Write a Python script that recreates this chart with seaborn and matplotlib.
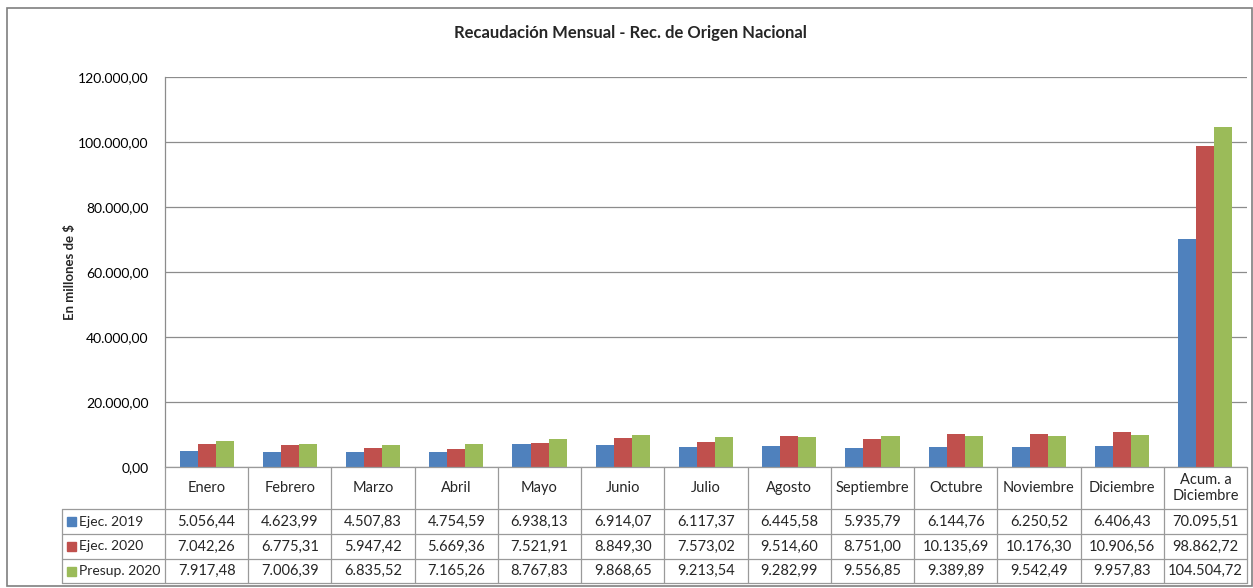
import pandas as pd
import matplotlib
matplotlib.use('Agg')
import matplotlib.pyplot as plt
import matplotlib.transforms as mtransforms
from matplotlib.lines import Line2D
from matplotlib.patches import Rectangle
from matplotlib.ticker import FuncFormatter
import seaborn as sns

categories = ['Enero', 'Febrero', 'Marzo', 'Abril', 'Mayo', 'Junio', 'Julio',
              'Agosto', 'Septiembre', 'Octubre', 'Noviembre', 'Diciembre',
              'Acum. a\nDiciembre']
series_names = ['Ejec. 2019', 'Ejec. 2020', 'Presup. 2020']
ejec_2019 = [5056.44, 4623.99, 4507.83, 4754.59, 6938.13, 6914.07, 6117.37,
             6445.58, 5935.79, 6144.76, 6250.52, 6406.43, 70095.51]
ejec_2020 = [7042.26, 6775.31, 5947.42, 5669.36, 7521.91, 8849.30, 7573.02,
             9514.60, 8751.00, 10135.69, 10176.30, 10906.56, 98862.72]
presup_2020 = [7917.48, 7006.39, 6835.52, 7165.26, 8767.83, 9868.65, 9213.54,
               9282.99, 9556.85, 9389.89, 9542.49, 9957.83, 104504.72]
yticks = [0, 20000, 40000, 60000, 80000, 100000, 120000]

colors = ['#4F81BD', '#C0504D', '#9BBB59']

# Long table for seaborn
values = {'Ejec. 2019': ejec_2019, 'Ejec. 2020': ejec_2020, 'Presup. 2020': presup_2020}
df = pd.DataFrame([
    {'Mes': c, 'Serie': s, 'Valor': v}
    for s in series_names for c, v in zip(categories, values[s])
])


def es_num(v, pos=None):
    # 1234.5 -> 1.234,50
    return f'{v:,.2f}'.replace(',', 'X').replace('.', ',').replace('X', '.')


sns.set_style('white')
plt.rcParams['font.family'] = ['Lato', 'DejaVu Sans']

W, H = 1253, 588
fig = plt.figure(figsize=(W / 100, H / 100), dpi=100)


def fx(x):
    return x / W


def fy(y):
    return 1 - y / H


left, right, top, bottom = 165, 1247, 77, 467
ax = fig.add_axes([fx(left), fy(bottom), fx(right) - fx(left), fy(top) - fy(bottom)])

sns.barplot(data=df, x='Mes', y='Valor', hue='Serie', palette=colors,
            width=0.65, saturation=1, legend=False, ax=ax, edgecolor='none')

ax.set_xlim(-0.5, len(categories) - 0.5)
ax.set_ylim(0, 120000)
ax.set_yticks(yticks)
ax.yaxis.set_major_formatter(FuncFormatter(es_num))
ax.tick_params(axis='y', labelsize=10, length=0, pad=12, colors='#000000')
ax.set_xticks([])
ax.set_xlabel('')
ax.set_ylabel('')
ax.yaxis.grid(True, color='#8C8C8C', linewidth=0.9)
ax.set_axisbelow(True)
for side in ['top', 'right', 'bottom']:
    ax.spines[side].set_visible(False)
ax.spines['left'].set_color('#8C8C8C')
ax.spines['left'].set_linewidth(0.9)

# Outer chart border
fig.add_artist(Rectangle((fx(7), fy(586)), fx(1252) - fx(7), fy(8) - fy(586),
                         transform=fig.transFigure, fill=False,
                         edgecolor='#7F7F7F', linewidth=1.2))

fig.text(fx(630), fy(33), 'Recaudación Mensual - Rec. de Origen Nacional',
         ha='center', va='center', fontsize=12, fontweight='bold')
fig.text(fx(70), fy(272), 'En millones de $', ha='center', va='center',
         rotation=90, fontsize=9.5, fontweight='bold')

# Data table under the plot
line_c = '#9A9A9A'
rows_y = [509, 534, 559, 583]
trans = mtransforms.blended_transform_factory(ax.transData, fig.transFigure)

for ry in rows_y:
    fig.add_artist(Line2D([fx(62), fx(right)], [fy(ry), fy(ry)],
                          transform=fig.transFigure, color=line_c, linewidth=0.9))
fig.add_artist(Line2D([fx(left), fx(right)], [fy(bottom), fy(bottom)],
                      transform=fig.transFigure, color=line_c, linewidth=0.9))
fig.add_artist(Line2D([fx(62), fx(62)], [fy(509), fy(583)],
                      transform=fig.transFigure, color=line_c, linewidth=0.9))
fig.add_artist(Line2D([fx(left), fx(left)], [fy(bottom), fy(583)],
                      transform=fig.transFigure, color=line_c, linewidth=0.9))
for i in range(len(categories)):
    fig.add_artist(Line2D([i + 0.5, i + 0.5], [fy(bottom), fy(583)],
                          transform=trans, color=line_c, linewidth=0.9))

for i, c in enumerate(categories):
    fig.text(i, fy(488), c, transform=trans, ha='center', va='center',
             fontsize=10.5, linespacing=1.15)

for r, s in enumerate(series_names):
    yc = (rows_y[r] + rows_y[r + 1]) / 2
    fig.add_artist(Rectangle((fx(67), fy(yc + 4.5)), fx(9), fy(yc - 4.5) - fy(yc + 4.5),
                             transform=fig.transFigure, color=colors[r]))
    fig.text(fx(79), fy(yc), s, ha='left', va='center', fontsize=10)
    for i, v in enumerate(values[s]):
        fig.text(i, fy(yc), es_num(v), transform=trans, ha='center', va='center',
                 fontsize=10.5)

fig.savefig('out.png', dpi=100, facecolor='white')
